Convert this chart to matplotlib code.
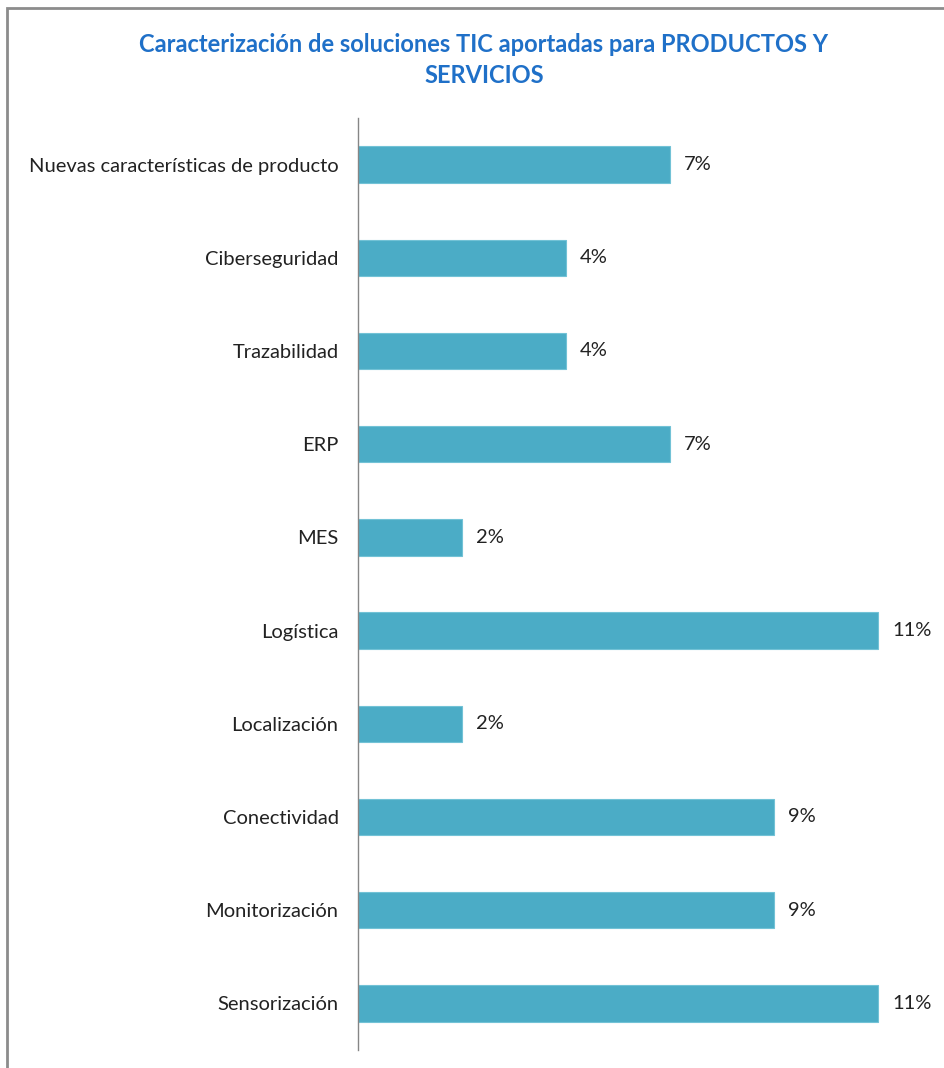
import matplotlib
matplotlib.use("Agg")
import matplotlib.pyplot as plt
from matplotlib.patches import Rectangle

categories = [
    "Nuevas características de producto",
    "Ciberseguridad",
    "Trazabilidad",
    "ERP",
    "MES",
    "Logística",
    "Localización",
    "Conectividad",
    "Monitorización",
    "Sensorización",
]
responses = [3, 2, 2, 3, 1, 5, 1, 4, 4, 5]
total_responses = 45
shares = [r / total_responses for r in responses]

title = "Caracterización de soluciones TIC aportadas para PRODUCTOS Y\nSERVICIOS"
bar_color = "#4BACC6"
title_color = "#1F70C8"
text_color = "#222222"
font = ["Lato", "DejaVu Sans"]

fig = plt.figure(figsize=(9.45, 10.68), dpi=100)
fig.patch.set_facecolor("white")

# chart frame
fig.patches.append(Rectangle((7 / 945, -0.05), 1.2, 1 - 8 / 1068 + 0.05,
                             transform=fig.transFigure, fill=False,
                             edgecolor="#8c8c8c", linewidth=2.0))

ax = fig.add_axes([358 / 945, 1 - 1050 / 1068, 12 * 46.8 / 945, (1050 - 118) / 1068])
y = list(range(len(categories)))
ax.barh(y, shares, height=0.39, color=bar_color, edgecolor="#72c2d6", linewidth=0.8)
ax.set_xlim(0, 0.12)
ax.set_ylim(len(categories) - 0.5, -0.5)

for yi, s in zip(y, shares):
    ax.text(s + 0.003, yi, f"{round(s * 100)}%", va="center", ha="left",
            fontsize=14.5, color=text_color, family=font)

ax.set_yticks(y)
ax.set_yticklabels(categories, fontsize=14.5, color=text_color, family=font)
ax.tick_params(axis="y", length=0, pad=14)
ax.set_xticks([])
for side in ("top", "right", "bottom"):
    ax.spines[side].set_visible(False)
ax.spines["left"].set_color("#868686")
ax.spines["left"].set_linewidth(1.0)

fig.text(484 / 945, 1 - 60 / 1068, title, ha="center", va="center",
         fontsize=17, fontweight="bold", color=title_color, family=font,
         linespacing=1.45)

fig.savefig("out.png", dpi=100, facecolor="white")
